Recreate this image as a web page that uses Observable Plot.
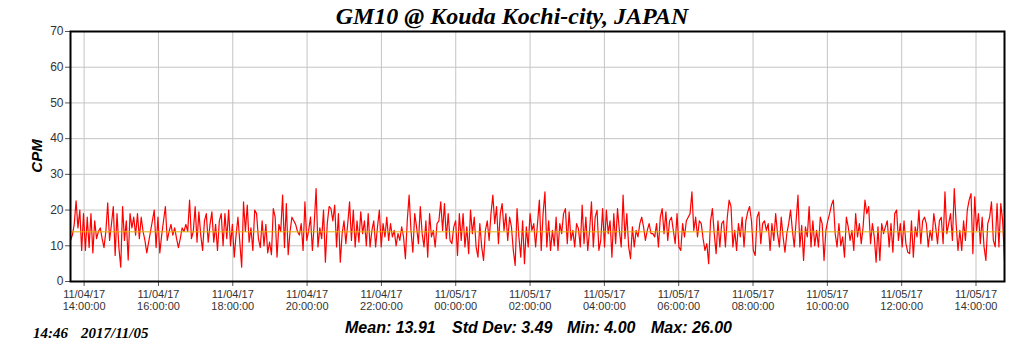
<!DOCTYPE html>
<html><head><meta charset="utf-8">
<script src="https://cdn.jsdelivr.net/npm/d3@7"></script>
<script src="https://cdn.jsdelivr.net/npm/@observablehq/plot@0.6"></script>
<style>body{margin:0;background:#fff}</style>
</head><body><div id="chart"></div>
<script>
const titleText = "GM10 @ Kouda Kochi-city, JAPAN";
const stampTime = "14:46";
const stampDate = "2017/11/05";
const statLabels = ["Mean: 13.91", "Std Dev: 3.49", "Min: 4.00", "Max: 26.00"];
const yLabel = "CPM";
const meanCPM = 13.91;
const startTime = "2017-11-04T13:38:00Z";
const endTime = "2017-11-05T14:46:00Z";
const yTicks = [0, 10, 20, 30, 40, 50, 60, 70];
const xTicks = ["2017-11-04T14:00:00Z","2017-11-04T16:00:00Z","2017-11-04T18:00:00Z","2017-11-04T20:00:00Z",
  "2017-11-04T22:00:00Z","2017-11-05T00:00:00Z","2017-11-05T02:00:00Z","2017-11-05T04:00:00Z",
  "2017-11-05T06:00:00Z","2017-11-05T08:00:00Z","2017-11-05T10:00:00Z","2017-11-05T12:00:00Z","2017-11-05T14:00:00Z"];

// CPM readings, in time order, split in blocks of about three hours
const cpm1 = [11.5,13,16,22.6,15,20,8.7,19,8.7,18,9.5,19,8,17,12,14,15,12,9.5,14,22,11.5,16,21,7.3,19,9.5,4,21,11.5,17,6,19,15,18,13,19,12,18,14,11.5,8,11,14,17,20,9.5,18,8,13,17,21,11.5,14,16,13,15,12,9.5,12,15];
const cpm2 = [14,16,14,22.8,12,14,21,11,19.5,13,8.7,17,19,11,16,19.5,11,16,8.7,17,19,10,19,12,20,10,16,6.8,13,18,11,4,22.3,14,21.4,11,15,8.7,20,19,12,9.5,17,10,16,8,11,7.5,20.4,18,6.8,16,14,24.2,9.5,21.8,7.5,14,18,17,16,14,13];
const cpm3 = [16.2,8.7,22.3,11.5,14.3,18,8.7,16.2,26,9.7,15,12,20,5.4,16.2,21,20.4,17,21.4,9.7,19,5.4,13.4,17,10.6,16.2,22.3,11.5,20,9.7,17,11,19.5,13.4,17,10,19,9.7,14.3,17,9.7,15.3,20,9.7,16.2,12.5,18,11.5,16.2,12.5,14.3,10,13.4,11.5,15.3,12.5,6.4,17,24.2,14.3,8.2,19,15.3];
const cpm4 = [10.6,21,13.4,9.7,17,6.8,19,12.5,14.3,9.7,16.2,17,22.3,14.3,21.8,12,19,11.5,10.6,15.3,17,7.3,19,11.5,19,9.7,15.3,7.8,20,13.4,18,9.7,6.8,16.2,9.7,5.9,14.3,17,11.5,19,24.2,16.2,21,10.6,19,21.8,14.3,19,11.5,18,15.3,8.7,4.5,20.4,12.5,6.8,17,5,15.3,9.7,19,14.3,16.2];
const cpm5 = [9.7,16.2,22.8,8.7,19,25.1,9.7,17,8.7,14.3,10,18,8.7,16.2,13.4,19,20.4,10.6,19.5,11.5,14.3,9.7,16.2,14.8,9.7,21.4,10.6,18,8.7,14.3,22.3,9.7,18,20,8.7,11.5,20.4,9.7,20,13.4,17,6.8,19,10.6,20.4,14.3,9.7,24.2,12,19,9.7,6.4,15.3,9.7,14.3,12.5,16.2,18,15.3,11.5,14.3,16.2,13.4];
const cpm6 = [13.4,12.5,16.2,9.7,18,20.4,13.4,19.5,11.5,17,18,14.3,10.6,19,9.7,8.7,16.2,12.5,17,18,19,25.1,14.3,18,12.5,17,16.2,12,8.7,10.6,5,17,20.4,13.4,7.8,17,9.7,16.2,17,9.7,18,22.8,21,9.7,14.3,8.7,16.2,12.5,18,9.7,17,19.5,21,17,8.7,7.3,18,19.5,10.6,16.2,17,14.3,16.2];
const cpm7 = [8.7,16.2,11.5,19,13.4,9.7,18,12.5,8.2,13.4,16.2,20,14.3,9.7,17,24.2,9.7,15.7,5.9,15.3,12.5,21,9.7,17,10,14.3,9.7,18,16.2,5.9,14.3,17,19,21.4,22.8,13.4,9.7,16.2,10,12.5,6.8,18,15.3,11.5,14.3,8.7,19,12.5,16.2,10.6,15.3,22.8,19,21,10.6,16.2,12.5,5.4,15.3,5.9,16.2,13.4,15.3];
const cpm8 = [17,9.7,16.2,8.2,19,20,11.5,16.2,9.7,17,10.6,8.2,7.8,17,6.8,15.3,12.5,20,10.6,17,18,16.2,9.7,14.3,11.5,19,15.3,10.6,17,18,10.6,25.1,13.4,16.2,19,11.5,26,16.2,8.7,14.3,8.7,17,11.5,20,22.8,24.6,7.8,23.7,14.3,19,10.6,18,9.7,5.9,16.2,18,22.3,11.5,9.7,21.8,9.7,21.8,17,5.9];

const values = [...cpm1, ...cpm2, ...cpm3, ...cpm4, ...cpm5, ...cpm6, ...cpm7, ...cpm8];
const t0 = new Date(startTime), t1 = new Date(endTime);
const step = (t1 - t0) / (values.length - 1);
const data = values.map((v, i) => ({t: new Date(+t0 + i * step), v}));
const tickDates = xTicks.map(d => new Date(d));

const plot = Plot.plot({
  width: 1024, height: 351,
  marginLeft: 70, marginRight: 20, marginTop: 31, marginBottom: 70,
  style: {fontFamily: "'Liberation Sans', Arial, sans-serif", fontSize: "11px", color: "#333", background: "#fff", overflow: "visible"},
  x: {type: "utc", domain: [t0, t1]},
  y: {domain: [0, 70]},
  marks: [
    Plot.gridY(yTicks, {stroke: "#c4c4c4", strokeOpacity: 1}),
    Plot.gridX(tickDates, {stroke: "#c4c4c4", strokeOpacity: 1}),
    Plot.lineY(data, {x: "t", y: "v", stroke: "#ff0000", strokeWidth: 1.2}),
    Plot.ruleY([meanCPM], {stroke: "#e0b000", strokeWidth: 1}),
    Plot.axisY(yTicks, {tickSize: 5, tickPadding: 2, label: null, fontSize: 12, stroke: "#555"}),
    Plot.axisX(tickDates, {tickSize: 5, tickPadding: 3, label: null, lineHeight: 1.1, stroke: "#555",
      tickFormat: d3.utcFormat("%m/%d/%y\n%H:%M:%S")}),
    Plot.frame({stroke: "#000", strokeWidth: 2})
  ]
});
document.getElementById("chart").append(plot);

const svg = d3.select(plot);
function addText(x, y, str, family, size, anchor, transform) {
  const t = svg.append("text")
    .attr("text-anchor", anchor)
    .attr("font-family", family)
    .attr("font-size", size)
    .attr("font-weight", "bold")
    .attr("font-style", "italic")
    .attr("fill", "#000")
    .text(str);
  if (transform) t.attr("transform", transform); else t.attr("x", x).attr("y", y);
  return t;
}
const serif = "'Liberation Serif', 'Times New Roman', serif";
const sans = "'Liberation Sans', Arial, sans-serif";
addText(512, 24, titleText, serif, 24, "middle");
addText(0, 0, yLabel, sans, 15, "middle", "translate(42,156) rotate(-90)");
addText(33, 338, stampTime, serif, 15, "start");
addText(81, 338, stampDate, serif, 15, "start");
const statX = [345, 452, 567, 651];
statLabels.forEach((s, i) => addText(statX[i], 333, s, sans, 16, "start"));
</script></body></html>
